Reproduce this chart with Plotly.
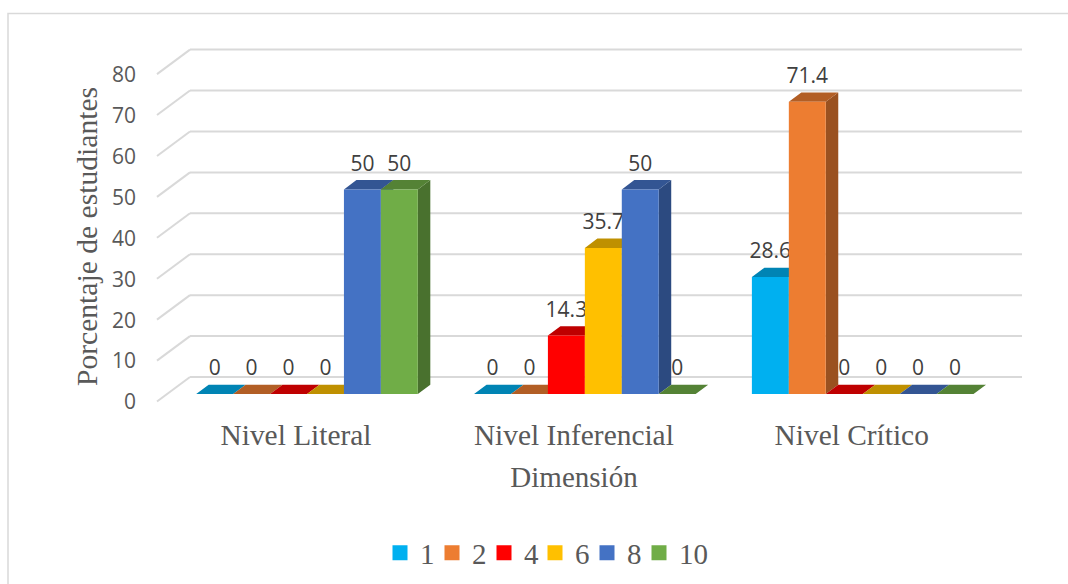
import plotly.graph_objects as go

categories = ["Nivel Literal", "Nivel Inferencial", "Nivel Crítico"]
series_names = ["1", "2", "4", "6", "8", "10"]
series_1 = [0, 0, 28.6]
series_2 = [0, 0, 71.4]
series_4 = [0, 14.3, 0]
series_6 = [0, 35.7, 0]
series_8 = [50, 50, 0]
series_10 = [50, 0, 0]
all_series = [series_1, series_2, series_4, series_6, series_8, series_10]
y_ticks = [0, 10, 20, 30, 40, 50, 60, 70, 80]

front_colors = ["#00B0F0", "#ED7D31", "#FF0000", "#FFC000", "#4472C4", "#70AD47"]
top_colors = ["#0084B4", "#B25E25", "#BF0000", "#BF9000", "#335593", "#548235"]
side_colors = ["#00759F", "#9A5120", "#A60000", "#A67C00", "#2C4A80", "#49712E"]
legend_swatch_px = [400, 452, 504, 555, 607, 659]

W, H = 1068, 584
PX_PER_UNIT = 4.0925
PX_PER_CAT = 277.85
X0_PX, Y0_PX = 307.0, 394.0
DOM_L, DOM_R, DOM_T, DOM_B = 124, 1024, 20, 453
x_range = [(DOM_L - X0_PX) / PX_PER_CAT, (DOM_R - X0_PX) / PX_PER_CAT]
y_range = [(Y0_PX - DOM_B) / PX_PER_UNIT, (Y0_PX - DOM_T) / PX_PER_UNIT]

BARGAP = 0.2024
bar_w = (1 - BARGAP) / 6
DX = 12.5 / PX_PER_CAT
DY = 9.3 / PX_PER_UNIT
LABEL_LIFT = 24 / PX_PER_UNIT

serif = "Liberation Serif"
fig = go.Figure()
xs = list(range(len(categories)))

# data labels lie under the bars, as in the source
for s, (name, vals) in enumerate(zip(series_names, all_series)):
    cx = [i + (s - 2.5) * bar_w for i in xs]
    fig.add_trace(go.Scatter(
        x=cx, y=[v + LABEL_LIFT for v in vals], text=[f"{v:g}" for v in vals],
        mode="text", textposition="middle center",
        textfont=dict(family="Open Sans", size=21, color="#404040"),
        legendgroup=name, showlegend=False, hoverinfo="skip", cliponaxis=False))

# depth faces
for s, (name, vals) in enumerate(zip(series_names, all_series)):
    top_x, top_y, side_x, side_y = [], [], [], []
    for i, v in zip(xs, vals):
        l = i + (s - 3) * bar_w
        r = l + bar_w
        top_x += [l, r, r + DX, l + DX, l, None]
        top_y += [v, v, v + DY, v + DY, v, None]
        side_x += [r, r + DX, r + DX, r, r, None]
        side_y += [0, DY, v + DY, v, 0, None]
    fig.add_trace(go.Scatter(x=side_x, y=side_y, mode="lines", fill="toself", fillcolor=side_colors[s],
                             line=dict(width=0), legendgroup=name, showlegend=False, hoverinfo="skip"))
    fig.add_trace(go.Scatter(x=top_x, y=top_y, mode="lines", fill="toself", fillcolor=top_colors[s],
                             line=dict(width=0), legendgroup=name, showlegend=False, hoverinfo="skip"))

# legend entries, one legend per series
legend_layout = {}
for s, name in enumerate(series_names):
    key = "legend" if s == 0 else f"legend{s + 1}"
    fig.add_trace(go.Scatter(x=[None], y=[None], mode="markers", name=name, legend=key, legendgroup=name,
                             marker=dict(symbol="square", size=15, color=front_colors[s], line=dict(width=0))))
    legend_layout[key] = dict(x=(legend_swatch_px[s] - 20) / W, y=1 - 553 / H, xanchor="left", yanchor="middle",
                              font=dict(family=serif, size=29, color="#595959"), itemwidth=30,
                              bgcolor="rgba(0,0,0,0)", orientation="h")

# front faces on the overlaying subplot
for s, (name, vals) in enumerate(zip(series_names, all_series)):
    fig.add_trace(go.Bar(x=xs, y=vals, name=name, marker=dict(color=front_colors[s], line=dict(width=0)),
                         xaxis="x2", yaxis="y2", legendgroup=name, showlegend=False))

# walls
BACK = (Y0_PX - 377) / PX_PER_UNIT
FRONT = (Y0_PX - 401.5) / PX_PER_UNIT
WALL_L = (157 - X0_PX) / PX_PER_CAT
WALL_B = (190 - X0_PX) / PX_PER_CAT
WALL_R = (1022 - X0_PX) / PX_PER_CAT
shapes = []
for t in y_ticks:
    line = dict(color="#D9D9D9", width=2)
    shapes.append(dict(type="line", xref="x", yref="y", layer="below", x0=WALL_L, y0=t + FRONT,
                       x1=WALL_B, y1=t + BACK, line=line))
    shapes.append(dict(type="line", xref="x", yref="y", layer="below", x0=WALL_B, y0=t + BACK,
                       x1=WALL_R, y1=t + BACK, line=line))
shapes.append(dict(type="rect", xref="paper", yref="paper", layer="below",
                   x0=8 / W, x1=1.02, y0=-0.02, y1=1 - 13.5 / H,
                   line=dict(color="#D9D9D9", width=1.5)))

common_x = dict(range=x_range, domain=[DOM_L / W, DOM_R / W], showgrid=False, zeroline=False, showline=False)
common_y = dict(range=y_range, domain=[1 - DOM_B / H, 1 - DOM_T / H], showgrid=False, zeroline=False, showline=False)
fig.update_layout(
    width=W, height=H, margin=dict(l=0, r=0, t=0, b=0), paper_bgcolor="white", plot_bgcolor="rgba(0,0,0,0)",
    barmode="group", bargap=BARGAP, bargroupgap=0, shapes=shapes,
    xaxis=dict(**common_x, tickmode="array", tickvals=xs, ticktext=categories, ticks="",
               anchor="free", position=1 - 415 / H, ticklabelshift=-11,
               tickfont=dict(family=serif, size=29.4, color="#595959"),
               title=dict(text="Dimensión", font=dict(family=serif, size=29, color="#595959"), standoff=16)),
    yaxis=dict(**common_y, tickmode="array", tickvals=y_ticks, ticks="", anchor="free", position=136 / W,
               ticklabelshift=8, tickfont=dict(family="Open Sans", size=21, color="#595959"),
               title=dict(text="Porcentaje de estudiantes", font=dict(family=serif, size=29.6, color="#595959"), standoff=4)),
    xaxis2=dict(**common_x, overlaying="x", visible=False, anchor="y2"),
    yaxis2=dict(**common_y, overlaying="y", visible=False, anchor="x2"),
    **legend_layout,
)
fig.write_html("out.html", config={"displayModeBar": False},
               post_script="document.body.style.margin='0';document.body.style.overflow='hidden';")
